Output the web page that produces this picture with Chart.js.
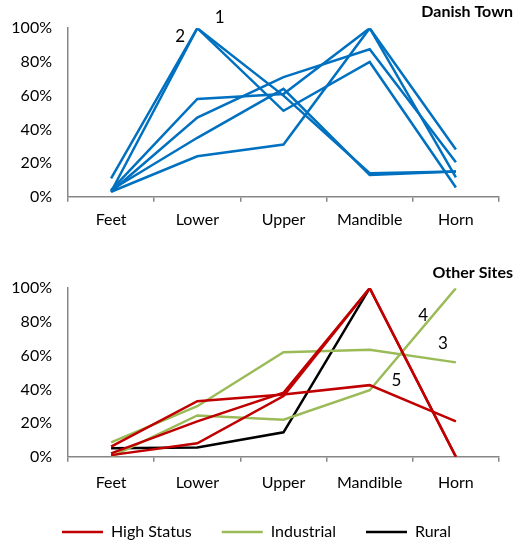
<!DOCTYPE html>
<html>
<head>
<meta charset="utf-8">
<script src="https://cdn.jsdelivr.net/npm/chart.js@4"></script>
<style>
  html, body { margin: 0; padding: 0; background: #fff; overflow: hidden; }
  .wrap { position: absolute; left: 0; width: 515px; }
</style>
</head>
<body>
<div class="wrap" style="top:0"><canvas id="danish" width="515" height="237"></canvas></div>
<div class="wrap" style="top:255px"><canvas id="other" width="515" height="295"></canvas></div>
<script>
const categories = ['Feet', 'Lower', 'Upper', 'Mandible', 'Horn'];
const yTicks = [0, 20, 40, 60, 80, 100];

// Danish Town, one line per site (% of max)
const danish1 = [3, 100, 60, 14, 15];
const danish2 = [11, 100, 51, 80, 5.5];
const danish3 = [4, 58, 61, 100, 28];
const danish4 = [3, 47, 71, 87.5, 20.5];
const danish5 = [4, 35, 64, 13, 15];
const danish6 = [3, 24, 31, 100, 11.5];

// Other sites
const highStatus1 = [6, 33, 37, 42.5, 21];
const highStatus2 = [2, 21, 38, 100, 0];
const highStatus3 = [1, 8, 36, 100, 0];
const industrial1 = [8.5, 30, 62, 63.5, 56];
const industrial2 = [0, 24.5, 22, 39.5, 100];
const rural = [5, 5.5, 14.5, 100, null];

// numbered site labels: category position (index) and value
const danishLabels = [
  { text: '1', at: 1.26, value: 106.5 },
  { text: '2', at: 0.8, value: 95 }
];
const otherLabels = [
  { text: '4', at: 3.62, value: 84 },
  { text: '3', at: 3.85, value: 67 },
  { text: '5', at: 3.31, value: 45 }
];

const BLUE = '#0070C0';
const RED = '#C00000';
const GREEN = '#9BBB59';
const BLACK = '#000000';
const AXIS = '#868686';
const FONT = 'Lato, "Open Sans", sans-serif';

const numberLabels = {
  id: 'numberLabels',
  afterDatasetsDraw(chart, args, opts) {
    const { ctx, scales: { x, y } } = chart;
    ctx.save();
    ctx.font = '17px ' + FONT;
    ctx.fillStyle = '#000';
    ctx.textAlign = 'center';
    ctx.textBaseline = 'middle';
    (opts.items || []).forEach(it => {
      ctx.fillText(it.text, x.getPixelForValue(it.at), y.getPixelForValue(it.value));
    });
    ctx.restore();
  }
};

function line(label, data, color, inLegend) {
  return {
    label: label,
    data: data,
    borderColor: color,
    backgroundColor: color,
    borderWidth: 2.5,
    pointRadius: 0,
    pointHoverRadius: 0,
    tension: 0,
    showInLegend: inLegend
  };
}

function makeOptions(title, titlePad, labelPad, shrinkX, labels, legend) {
  return {
    responsive: false,
    animation: false,
    layout: { padding: { left: 0, right: 2, top: 0, bottom: 0 } },
    plugins: {
      title: {
        display: true,
        text: title,
        align: 'end',
        color: '#000',
        font: { family: FONT, size: 16, weight: 'bold' },
        padding: titlePad
      },
      legend: legend,
      tooltip: { enabled: false },
      numberLabels: { items: labels }
    },
    scales: {
      x: {
        offset: true,
        afterFit: s => { s.height -= shrinkX; },
        grid: { display: true, offset: true, drawOnChartArea: false, drawTicks: true, tickLength: 5, color: AXIS, lineWidth: 1.5 },
        border: { color: AXIS, width: 1.5 },
        ticks: { color: '#000', padding: labelPad, font: { family: FONT, size: 16 } }
      },
      y: {
        min: 0,
        max: 100,
        afterFit: s => { s.width = 68; },
        afterBuildTicks: s => { s.ticks = yTicks.map(v => ({ value: v })); },
        grid: { display: false, drawTicks: false },
        border: { color: AXIS, width: 1.5 },
        ticks: { color: '#000', padding: 16, font: { family: FONT, size: 16 }, callback: v => v + '%' }
      },
      yr: {
        position: 'right',
        afterFit: s => { s.width = 14; },
        grid: { display: false, drawTicks: false },
        border: { display: false },
        ticks: { display: false }
      }
    }
  };
}

new Chart(document.getElementById('danish'), {
  type: 'line',
  data: {
    labels: categories,
    datasets: [
      line('1', danish1, BLUE),
      line('2', danish2, BLUE),
      line('3', danish3, BLUE),
      line('4', danish4, BLUE),
      line('5', danish5, BLUE),
      line('6', danish6, BLUE)
    ]
  },
  options: makeOptions('Danish Town', { top: 2, bottom: 7 }, 8, 0, danishLabels, { display: false }),
  plugins: [numberLabels]
});

new Chart(document.getElementById('other'), {
  type: 'line',
  data: {
    labels: categories,
    datasets: [
      line('High Status', highStatus1, RED, true),
      line('High Status', highStatus2, RED, false),
      line('High Status', highStatus3, RED, false),
      line('Industrial', industrial1, GREEN, true),
      line('Industrial', industrial2, GREEN, false),
      line('Rural', rural, BLACK, true)
    ]
  },
  options: makeOptions('Other Sites', { top: 8, bottom: 6 }, 11, 9, otherLabels, {
    display: true,
    position: 'bottom',
    labels: {
      color: '#000',
      font: { family: FONT, size: 16 },
      usePointStyle: true,
      pointStyle: 'line',
      pointStyleWidth: 41,
      padding: 30,
      filter: (item, data) => data.datasets[item.datasetIndex].showInLegend
    }
  }),
  plugins: [numberLabels]
});
</script>
</body>
</html>
